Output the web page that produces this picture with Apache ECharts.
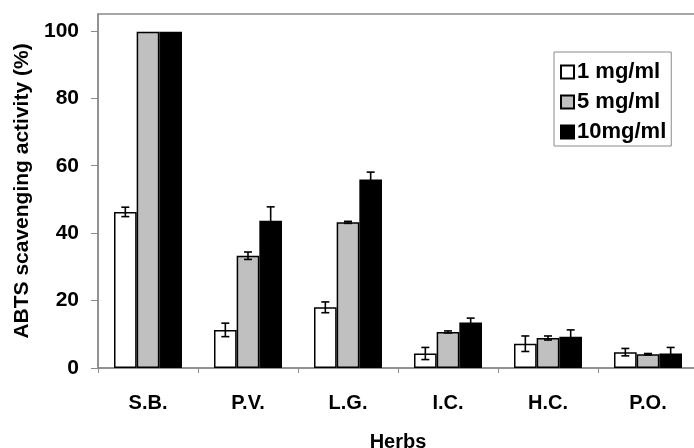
<!DOCTYPE html>
<html>
<head>
<meta charset="utf-8">
<script src="https://cdn.jsdelivr.net/npm/echarts@6/dist/echarts.min.js"></script>
<style>html,body{margin:0;padding:0;background:#fff;}#c{width:694px;height:448px;}</style>
</head>
<body>
<div id="c"></div>
<script>
const categories = ['S.B.', 'P.V.', 'L.G.', 'I.C.', 'H.C.', 'P.O.'];
const seriesNames = ['1 mg/ml', '5 mg/ml', '10mg/ml'];
const v1 = [46.3, 11.3, 18.0, 4.3, 7.2, 4.7];
const e1 = [1.4, 2.0, 1.6, 1.8, 2.3, 1.1];
const v5 = [99.7, 33.3, 43.2, 10.7, 8.9, 4.1];
const e5 = [0, 1.1, 0.3, 0.3, 0.6, 0.2];
const v10 = [99.7, 43.7, 55.9, 13.5, 9.3, 4.3];
const e10 = [0, 4.1, 2.2, 1.3, 2.0, 1.8];
const yTicks = [0, 20, 40, 60, 80, 100];

const values = [v1, v5, v10];
const errors = [e1, e5, e10];
const colors = ['#ffffff', '#c0c0c0', '#000000'];
const CAT_GAP = 0.32;
const FONT = 'Liberation Sans, Arial, sans-serif';

const chart = echarts.init(document.getElementById('c'), null, {renderer: 'canvas'});

const barSeries = values.map((vals, i) => ({
  name: seriesNames[i],
  type: 'bar',
  data: vals,
  barGap: '0%',
  barCategoryGap: (CAT_GAP * 100) + '%',
  itemStyle: {color: colors[i], borderColor: '#000', borderWidth: 1.5},
  emphasis: {disabled: true},
  z: 2
}));

const errSeries = values.map((vals, i) => ({
  type: 'custom',
  name: 'err' + i,
  data: vals.map((v, j) => [j, v, errors[i][j]]),
  z: 5,
  renderItem: function (params, api) {
    const cat = api.value(0), v = api.value(1), e = api.value(2);
    if (!e) return null;
    const band = api.size([1, 0])[0];
    const bw = band * (1 - CAT_GAP) / 3;
    const off = (i - 1) * bw;
    const hi = api.coord([cat, v + e]);
    const lo = api.coord([cat, v - e]);
    const x = hi[0] + off;
    const cap = 4;
    const style = {stroke: '#000', lineWidth: 1.6, fill: null};
    return {
      type: 'group',
      children: [
        {type: 'line', shape: {x1: x, y1: hi[1], x2: x, y2: lo[1]}, style: style},
        {type: 'line', shape: {x1: x - cap, y1: hi[1], x2: x + cap, y2: hi[1]}, style: style},
        {type: 'line', shape: {x1: x - cap, y1: lo[1], x2: x + cap, y2: lo[1]}, style: style}
      ]
    };
  }
}));

chart.setOption({
  animation: false,
  backgroundColor: '#fff',
  grid: {left: 98, top: 14, right: -4, bottom: 80, containLabel: false, outerBoundsMode: 'none', show: true, borderColor: '#8a8a8a', borderWidth: 1.5, backgroundColor: 'transparent'},
  legend: {
    data: seriesNames,
    orient: 'vertical',
    left: 554,
    top: 52,
    backgroundColor: '#fff',
    borderColor: '#8a8a8a',
    borderWidth: 1,
    padding: [9, 5, 3, 6],
    itemGap: 8,
    itemWidth: 13,
    itemHeight: 13,
    icon: 'rect',
    selectedMode: false,
    textStyle: {fontFamily: FONT, fontWeight: 'bold', fontSize: 22, color: '#000', padding: [0, 0, 0, -2]}
  },
  xAxis: {
    type: 'category',
    data: categories,
    name: 'Herbs',
    nameLocation: 'middle',
    nameGap: 64,
    nameTextStyle: {fontFamily: FONT, fontWeight: 'bold', fontSize: 20, color: '#000'},
    axisLine: {lineStyle: {color: '#8a8a8a', width: 1.5}},
    axisTick: {show: true, length: 5, lineStyle: {color: '#8a8a8a', width: 1}},
    axisLabel: {margin: 25, fontFamily: FONT, fontWeight: 'bold', fontSize: 20, color: '#000'},
    splitLine: {show: false}
  },
  yAxis: {
    type: 'value',
    min: 0,
    max: 105,
    name: 'ABTS scavenging activity (%)',
    nameLocation: 'middle',
    nameGap: 63,
    nameTextStyle: {fontFamily: FONT, fontWeight: 'bold', fontSize: 21, color: '#000'},
    axisLine: {show: true, lineStyle: {color: '#8a8a8a', width: 1.5}},
    axisTick: {show: true, length: 7, customValues: yTicks, lineStyle: {color: '#8a8a8a', width: 1}},
    axisLabel: {margin: 19, customValues: yTicks, fontFamily: FONT, fontWeight: 'bold', fontSize: 21, color: '#000'},
    splitLine: {show: false}
  },
  series: barSeries.concat(errSeries)
});
</script>
</body>
</html>
